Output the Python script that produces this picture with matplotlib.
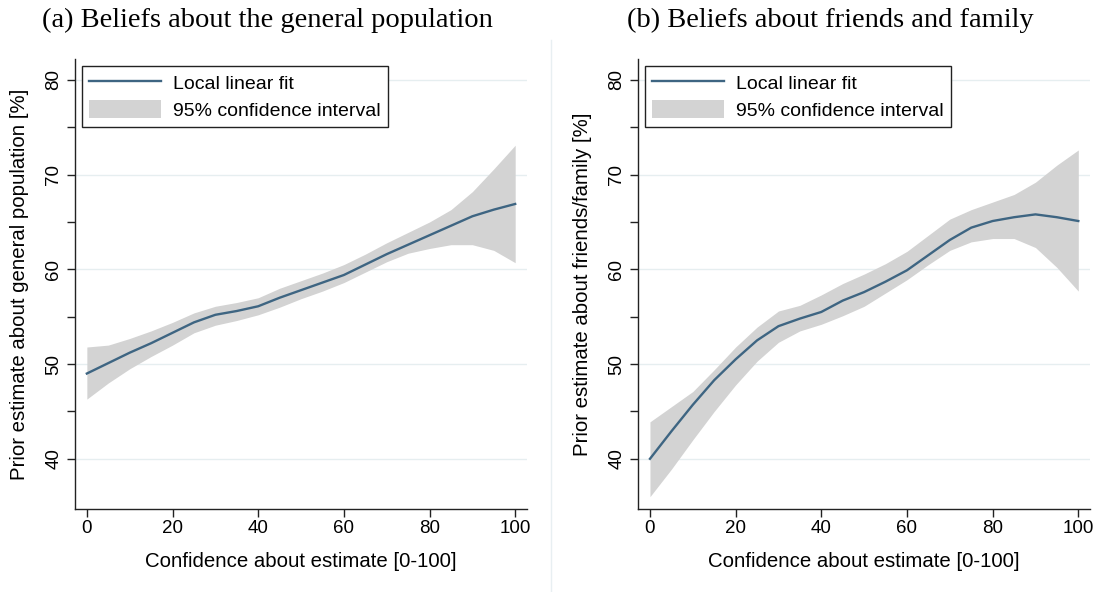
import numpy as np
import matplotlib
matplotlib.use("Agg")
import matplotlib.pyplot as plt
from matplotlib.lines import Line2D
from matplotlib.patches import Patch

# confidence grid (x axis)
confidence = [0, 5, 10, 15, 20, 25, 30, 35, 40, 45, 50,
              55, 60, 65, 70, 75, 80, 85, 90, 95, 100]

# (a) general population
gen_fit = [49.0, 50.1, 51.2, 52.2, 53.3, 54.4, 55.2, 55.6, 56.1, 57.0, 57.8,
           58.6, 59.4, 60.5, 61.6, 62.6, 63.6, 64.6, 65.6, 66.3, 66.9]
gen_hi = [51.8, 52.0, 52.7, 53.5, 54.4, 55.4, 56.1, 56.5, 57.0, 58.0, 58.8,
          59.6, 60.5, 61.6, 62.8, 63.9, 65.0, 66.3, 68.2, 70.6, 73.1]
gen_lo = [46.3, 48.0, 49.5, 50.8, 52.0, 53.3, 54.1, 54.6, 55.2, 56.0, 56.9,
          57.7, 58.6, 59.7, 60.8, 61.7, 62.2, 62.6, 62.6, 62.0, 60.7]

# (b) friends and family
fam_fit = [40.0, 42.9, 45.7, 48.3, 50.5, 52.5, 54.0, 54.8, 55.5, 56.7, 57.6,
           58.7, 59.9, 61.5, 63.1, 64.4, 65.1, 65.5, 65.8, 65.5, 65.1]
fam_hi = [43.9, 45.5, 47.1, 49.4, 51.8, 53.9, 55.6, 56.2, 57.3, 58.5, 59.5,
          60.6, 61.9, 63.6, 65.3, 66.3, 67.1, 67.9, 69.2, 71.0, 72.6]
fam_lo = [36.0, 38.9, 42.0, 45.0, 47.8, 50.3, 52.3, 53.5, 54.2, 55.1, 56.1,
          57.5, 58.9, 60.5, 62.0, 62.9, 63.25, 63.25, 62.3, 60.2, 57.7]

titles = ["(a) Beliefs about the general population",
          "(b) Beliefs about friends and family"]
ylabels = ["Prior estimate about general population [%]",
           "Prior estimate about friends/family [%]"]
xlabel = "Confidence about estimate [0-100]"

line_col = "#3e6582"
band_col = "#d3d3d3"
grid_col = "#e6eef0"

plt.rcParams["font.family"] = ["Liberation Sans", "DejaVu Sans"]

fig = plt.figure(figsize=(10.96, 5.92), dpi=100)
ax_a = fig.add_axes([0.0683, 0.1402, 0.4127, 0.7601])
ax_b = fig.add_axes([0.5821, 0.1402, 0.4127, 0.7601])

panels = [(ax_a, gen_fit, gen_lo, gen_hi), (ax_b, fam_fit, fam_lo, fam_hi)]
for i, (ax, fit, lo, hi) in enumerate(panels):
    ax.fill_between(confidence, lo, hi, color=band_col, lw=0, zorder=2)
    ax.plot(confidence, fit, color=line_col, lw=1.7, zorder=3)

    ax.set_xlim(-2.8, 102.8)
    ax.set_ylim(34.7, 82.2)
    ax.set_xticks([0, 20, 40, 60, 80, 100])
    ax.set_yticks([40, 50, 60, 70, 80])
    ax.set_yticks([45, 55, 65, 75], minor=True)
    ax.grid(axis="y", which="major", color=grid_col, lw=1.0, zorder=0)

    for s in ["top", "right"]:
        ax.spines[s].set_visible(False)
    for s in ["left", "bottom"]:
        ax.spines[s].set_color("#222222")
        ax.spines[s].set_linewidth(1.0)

    ax.tick_params(axis="both", which="both", length=6, width=1.0,
                   color="#222222", labelsize=13.5)
    ax.tick_params(axis="x", pad=2)
    ax.tick_params(axis="y", pad=3)
    for lab in ax.get_yticklabels():
        lab.set_rotation(90)
        lab.set_va("center")

    ax.set_xlabel(xlabel, fontsize=14.7, labelpad=11)
    ax.set_ylabel(ylabels[i], fontsize=14.7, labelpad=12)

    handles = [Line2D([], [], color=line_col, lw=1.7),
               Patch(facecolor=band_col, edgecolor="none")]
    leg = ax.legend(handles, ["Local linear fit", "95% confidence interval"],
                    loc="upper left", bbox_to_anchor=(0.0155, 0.9844),
                    borderaxespad=0, fontsize=14, handlelength=3.7,
                    handleheight=1.03, handletextpad=0.62, labelspacing=0.36,
                    borderpad=0.38, fancybox=False, framealpha=1)
    leg.get_frame().set_edgecolor("#222222")
    leg.get_frame().set_linewidth(1.0)

fig.text(0.2442, 0.966, titles[0], ha="center", va="center",
         fontsize=20.5, family="Liberation Serif")
fig.text(0.7573, 0.966, titles[1], ha="center", va="center",
         fontsize=20.5, family="Liberation Serif")

# faint frame edge of the right panel
fig.add_artist(Line2D([0.5027, 0.5027], [0.0, 0.932], color="#e8eff2", lw=1.0))

fig.savefig("out.png", dpi=100)
